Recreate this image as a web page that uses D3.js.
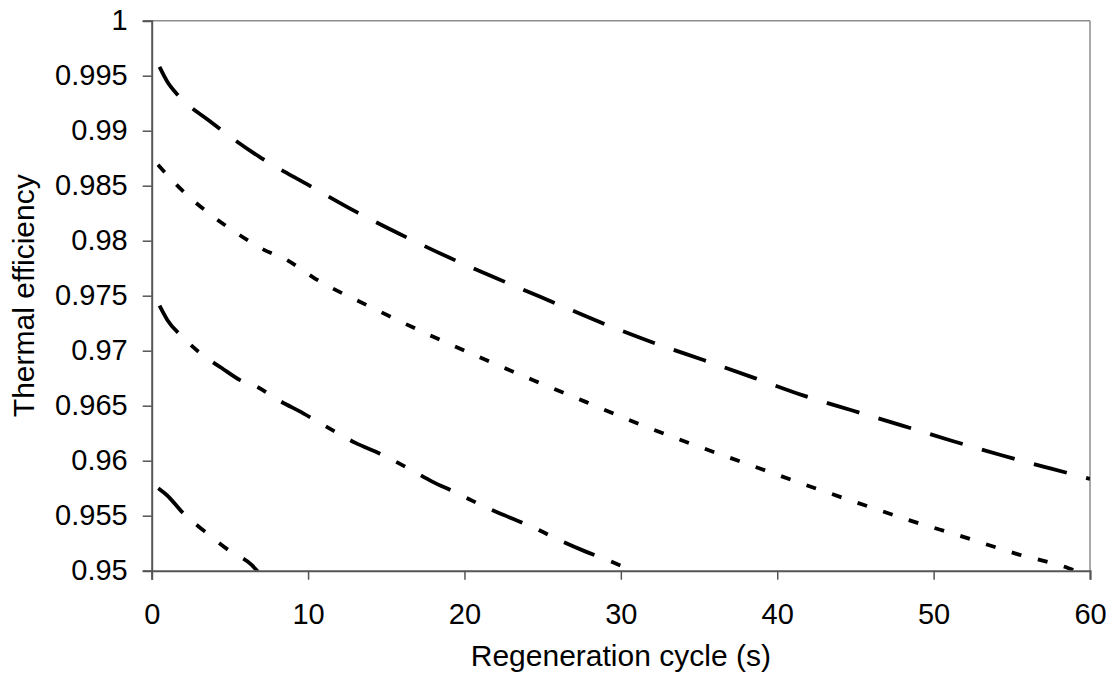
<!DOCTYPE html>
<html>
<head>
<meta charset="utf-8">
<script src="https://cdn.jsdelivr.net/npm/d3@7"></script>
<style>
  body { margin: 0; background: #fff; }
  svg { display: block; font-family: "Liberation Sans", Arial, sans-serif; }
</style>
</head>
<body>
<div id="chart"></div>
<script>
// values
const xTicks = [0, 10, 20, 30, 40, 50, 60];
const yTicks = [0.95, 0.955, 0.96, 0.965, 0.97, 0.975, 0.98, 0.985, 0.99, 0.995, 1];

const cycle1 = [0.5, 1.0, 1.7, 3.68, 6.87, 10.01, 13.17, 16.37, 19.53, 22.68, 25.84, 29.04, 32.18, 35.33, 38.52, 41.65, 44.81, 48.0, 51.1, 54.29, 57.46, 60];
const eff1 = [0.9958, 0.99445, 0.9932, 0.9909, 0.98764, 0.98507, 0.98255, 0.98025, 0.97814, 0.9762, 0.9743, 0.97238, 0.97067, 0.96913, 0.96753, 0.96594, 0.96456, 0.96319, 0.96184, 0.96052, 0.9593, 0.95835];

const cycle2 = [0.4, 1.92, 3.55, 5.25, 7.01, 8.63, 10.44, 13.89, 17.4, 20.83, 24.29, 27.71, 31.19, 34.6, 38.08, 41.54, 44.97, 48.42, 51.85, 55.3, 58.63, 59.2];
const eff2 = [0.9869, 0.98461, 0.98261, 0.98087, 0.9793, 0.97825, 0.97656, 0.97405, 0.97166, 0.96949, 0.96738, 0.96537, 0.96332, 0.96148, 0.95971, 0.95794, 0.95625, 0.9546, 0.9531, 0.95153, 0.95022, 0.9499];

const cycle3 = [0.5, 1.0, 2.0, 3.0, 4.5, 5.65, 6.71, 8.15, 9.69, 11.61, 13.03, 14.6, 16.52, 17.94, 19.33, 21.38, 22.85, 24.3, 26.28, 27.68, 29.14, 30.9];
const eff3 = [0.9741, 0.9728, 0.9712, 0.9699, 0.9684, 0.96733, 0.96673, 0.96547, 0.96431, 0.96273, 0.96162, 0.96064, 0.95922, 0.9581, 0.95718, 0.95576, 0.95486, 0.954, 0.95264, 0.95178, 0.95097, 0.9499];

const cycle4 = [0.42, 0.96, 2.02, 3.35, 5.0, 6.39, 6.8];
const eff4 = [0.9575, 0.95688, 0.95522, 0.95362, 0.95178, 0.95052, 0.9499];

const dashes = ["34,20", "10,17", "33,18,10,18", "35,18,11,18,11,18"];

const width = 1114, height = 682;
const margin = { top: 20.7, right: 24, bottom: 111.3, left: 151.7 };
const w = width - margin.left - margin.right;
const h = height - margin.top - margin.bottom;

const series = [
  cycle1.map((c, i) => [c, eff1[i]]),
  cycle2.map((c, i) => [c, eff2[i]]),
  cycle3.map((c, i) => [c, eff3[i]]),
  cycle4.map((c, i) => [c, eff4[i]])
];

const svg = d3.select("#chart")
  .append("svg")
  .attr("width", width)
  .attr("height", height);

const g = svg.append("g")
  .attr("transform", `translate(${margin.left},${margin.top})`);

const x = d3.scaleLinear().domain([0, 60]).range([0, w]);
const y = d3.scaleLinear().domain([0.95, 1]).range([h, 0]);

g.append("clipPath").attr("id", "plot")
  .append("rect").attr("width", w).attr("height", h);

// plot border (top and right)
g.append("line").attr("x1", 0).attr("x2", w).attr("y1", 0).attr("y2", 0)
  .attr("stroke", "#8c8c8c").attr("stroke-width", 1.5);
g.append("line").attr("x1", w).attr("x2", w).attr("y1", 0).attr("y2", h)
  .attr("stroke", "#8c8c8c").attr("stroke-width", 1.5);

const line = d3.line()
  .x(d => x(d[0]))
  .y(d => y(d[1]))
  .curve(d3.curveMonotoneX);

g.append("g").attr("clip-path", "url(#plot)")
  .selectAll("path")
  .data(series)
  .join("path")
  .attr("d", line)
  .attr("fill", "none")
  .attr("stroke", "#000")
  .attr("stroke-width", 3.8)
  .attr("stroke-dasharray", (d, i) => dashes[i]);

// axes
const xAxis = g.append("g")
  .attr("transform", `translate(0,${h})`)
  .call(d3.axisBottom(x).tickValues(xTicks).tickSize(9).tickPadding(24).tickFormat(d3.format("d")));
const yAxis = g.append("g")
  .call(d3.axisLeft(y).tickValues(yTicks).tickSize(9).tickPadding(15).tickFormat(d => d === 1 ? "1" : d3.format(".3~f")(d)));

[xAxis, yAxis].forEach(a => {
  a.select(".domain").attr("stroke", "#555").attr("stroke-width", 2);
  a.selectAll(".tick line").attr("stroke", "#555").attr("stroke-width", 1.5);
  a.selectAll(".tick text").attr("fill", "#000").attr("font-size", 29)
    .attr("font-family", "Liberation Sans, Arial, sans-serif");
});

svg.append("text")
  .attr("x", margin.left + w / 2)
  .attr("y", 666)
  .attr("text-anchor", "middle")
  .attr("font-size", 30)
  .text("Regeneration cycle (s)");

svg.append("text")
  .attr("transform", `translate(34,${margin.top + h / 2}) rotate(-90)`)
  .attr("text-anchor", "middle")
  .attr("font-size", 30)
  .text("Thermal efficiency");
</script>
</body>
</html>
